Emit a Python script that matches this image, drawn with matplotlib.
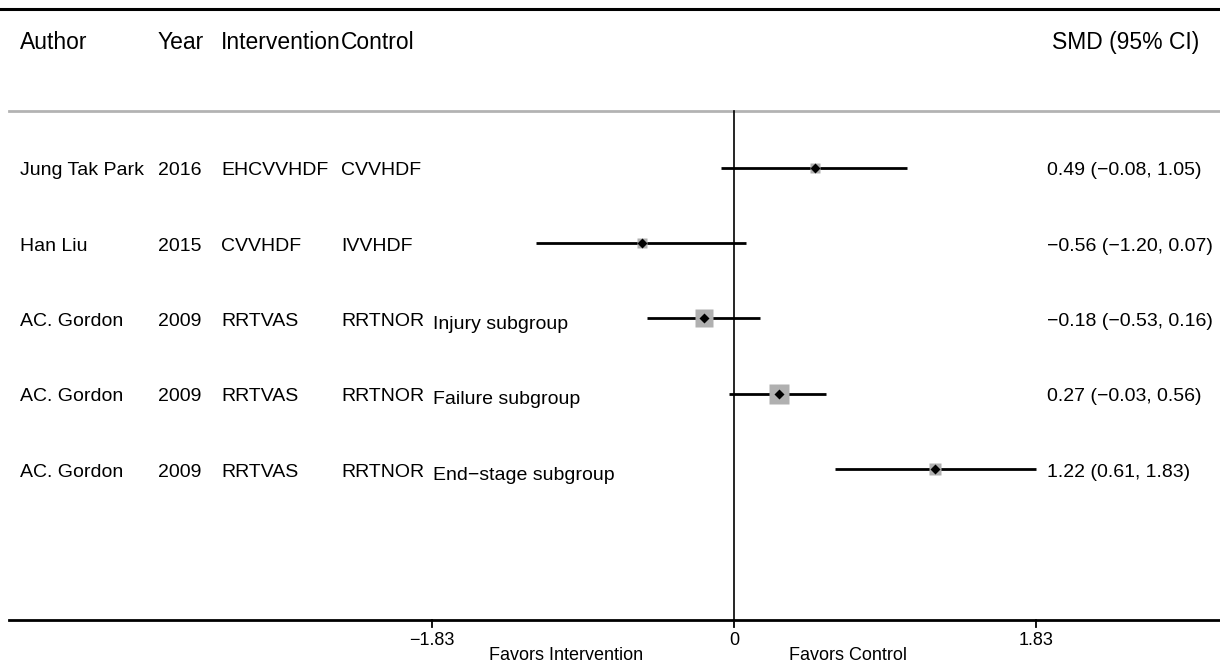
import matplotlib.pyplot as plt
import numpy as np
from matplotlib.transforms import blended_transform_factory

plt.rcParams["font.family"] = ["Liberation Sans", "DejaVu Sans"]

authors = ["Jung Tak Park", "Han Liu", "AC. Gordon", "AC. Gordon", "AC. Gordon"]
years = ["2016", "2015", "2009", "2009", "2009"]
interventions = ["EHCVVHDF", "CVVHDF", "RRTVAS", "RRTVAS", "RRTVAS"]
controls = ["CVVHDF", "IVVHDF", "RRTNOR", "RRTNOR", "RRTNOR"]
subgroups = ["", "", "Injury subgroup", "Failure subgroup", "End\u2212stage subgroup"]
smd = [0.49, -0.56, -0.18, 0.27, 1.22]
ci_low = [-0.08, -1.20, -0.53, -0.03, 0.61]
ci_high = [1.05, 0.07, 0.16, 0.56, 1.83]
weights = [10.0, 10.0, 32.0, 40.0, 14.0]  # approx.
xticks = [-1.83, 0, 1.83]


def fmt(v):
    return f"{v:.2f}".replace("-", "\u2212")


fig = plt.figure(figsize=(12.2, 6.64), dpi=100)
ax = fig.add_axes([0, 0, 1, 1])
ax.set_xlim(-4.448, 2.945)
ax.set_ylim(6.59, -2.23)
ax.axis("off")

fx = blended_transform_factory(fig.transFigure, ax.transData)

# frame lines
ax.plot([0, 1], [-2.11, -2.11], transform=fx, color="black", lw=2.2, clip_on=False)
ax.plot([0.007, 1], [-0.757, -0.757], transform=fx, color="#b3b3b3", lw=2.0)
ax.plot([0.007, 1], [6.0, 6.0], transform=fx, color="black", lw=2.0)
ax.plot([0, 0], [-0.757, 6.0], color="black", lw=1.2)

# header
hy = -1.67
hs = 16.5
ax.text(20 / 1220, hy, "Author", transform=fx, fontsize=hs, va="center")
ax.text(158 / 1220, hy, "Year", transform=fx, fontsize=hs, va="center")
ax.text(221 / 1220, hy, "Intervention", transform=fx, fontsize=hs, va="center")
ax.text(341 / 1220, hy, "Control", transform=fx, fontsize=hs, va="center")
ax.text(1199 / 1220, hy, "SMD (95% CI)", transform=fx, fontsize=hs, va="center", ha="right")

rs = 14
ty = 0.04  # text baseline nudge
rows = np.arange(len(smd))
for i in rows:
    ax.plot([ci_low[i], ci_high[i]], [i, i], color="black", lw=2.0, solid_capstyle="butt", zorder=2)
    side = 3.3 * np.sqrt(weights[i]) * 0.72
    ax.plot(smd[i], i, marker="s", ms=side, color="#b0b0b0", mec="none", zorder=3)
    ax.plot(smd[i], i, marker="D", ms=5.5, color="black", mec="none", zorder=4)

    ax.text(20 / 1220, i + ty, authors[i], transform=fx, fontsize=rs, va="center")
    ax.text(158 / 1220, i + ty, years[i], transform=fx, fontsize=rs, va="center")
    ax.text(221 / 1220, i + ty, interventions[i], transform=fx, fontsize=rs, va="center")
    ax.text(341 / 1220, i + ty, controls[i], transform=fx, fontsize=rs, va="center")
    if subgroups[i]:
        ax.text(433 / 1220, i + 0.08, subgroups[i], transform=fx, fontsize=rs, va="center")
    label = f"{fmt(smd[i])} ({fmt(ci_low[i])}, {fmt(ci_high[i])})"
    ax.text(1047 / 1220, i + ty, label, transform=fx, fontsize=rs, va="center")

# x axis ticks
for t in xticks:
    ax.plot([t, t], [6.0, 6.1], color="black", lw=1.3)
    lab = "0" if t == 0 else fmt(t)
    ax.text(t, 6.17, lab, fontsize=13, ha="center", va="top")

ax.text(-1.02, 6.48, "Favors Intervention", fontsize=13, ha="center", va="center")
ax.text(0.69, 6.48, "Favors Control", fontsize=13, ha="center", va="center")

fig.savefig("out.png", dpi=100)
